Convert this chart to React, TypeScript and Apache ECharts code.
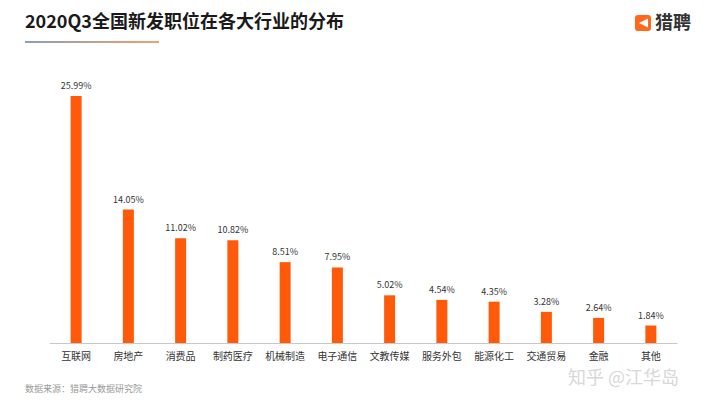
import React, { useEffect, useRef } from "react";
import * as echarts from "echarts";

const categories = ["互联网", "房地产", "消费品", "制药医疗", "机械制造", "电子通信", "文教传媒", "服务外包", "能源化工", "交通贸易", "金融", "其他"];
const values = [25.99, 14.05, 11.02, 10.82, 8.51, 7.95, 5.02, 4.54, 4.35, 3.28, 2.64, 1.84];

const FONT = "'Noto Sans CJK SC', 'Noto Sans', sans-serif";

export default function App() {
  const ref = useRef<HTMLDivElement>(null);
  useEffect(() => {
    const chart = echarts.init(ref.current!, null, { renderer: "svg" });
    chart.setOption({
      animation: false,
      backgroundColor: "#ffffff",
      grid: { left: 50, right: 43, top: 96, bottom: 62 },
      xAxis: {
        type: "category",
        data: categories,
        axisTick: { show: false },
        axisLine: { lineStyle: { color: "#c8c8c8", width: 1 } },
        axisLabel: { color: "#333", fontSize: 10, fontFamily: FONT, margin: 7, interval: 0 },
      },
      yAxis: {
        type: "value",
        min: 0,
        max: 26,
        show: false,
        splitLine: { show: false },
      },
      series: [
        {
          type: "bar",
          data: values,
          barWidth: 11,
          itemStyle: { color: "#ff5a0a" },
          label: {
            show: true,
            position: "top",
            distance: 6,
            formatter: (p: any) => p.value.toFixed(2) + "%",
            color: "#333",
            fontSize: 9,
            fontFamily: FONT,
          },
        },
      ],
      graphic: [
        {
          type: "text",
          left: 25,
          top: 11,
          style: { text: "2020Q3全国新发职位在各大行业的分布", fontSize: 18, fontWeight: "bold", fill: "#1a1a1a", fontFamily: FONT },
        },
        {
          type: "rect",
          shape: { x: 25, y: 41, width: 134, height: 2 },
          style: {
            fill: new echarts.graphic.LinearGradient(0, 0, 1, 0, [
              { offset: 0, color: "#8aa0b8" },
              { offset: 1, color: "#f0a070" },
            ]),
          },
        },
        {
          type: "rect",
          shape: { x: 635, y: 15, width: 16, height: 16, r: 3 },
          style: { fill: "#ff6a1a" },
        },
        {
          type: "polygon",
          shape: { points: [[648, 18.5], [639, 23], [648, 27.5]] },
          style: { fill: "#ffffff" },
        },
        {
          type: "text",
          left: 655,
          top: 12,
          style: { text: "猎聘", fontSize: 18, fontWeight: "bold", fill: "#333", fontFamily: FONT },
        },
        {
          type: "text",
          left: 25,
          top: 384,
          style: { text: "数据来源：猎聘大数据研究院", fontSize: 9, fill: "#999", fontFamily: FONT },
        },
        {
          type: "text",
          left: 568,
          top: 367,
          style: { text: "知乎 @江华岛", fontSize: 18, fill: "#d8d8d8", fontFamily: FONT },
        },
      ],
    });
    return () => chart.dispose();
  }, []);
  return <div ref={ref} style={{ width: 720, height: 405, position: "fixed", left: 0, top: 0 }} />;
}
